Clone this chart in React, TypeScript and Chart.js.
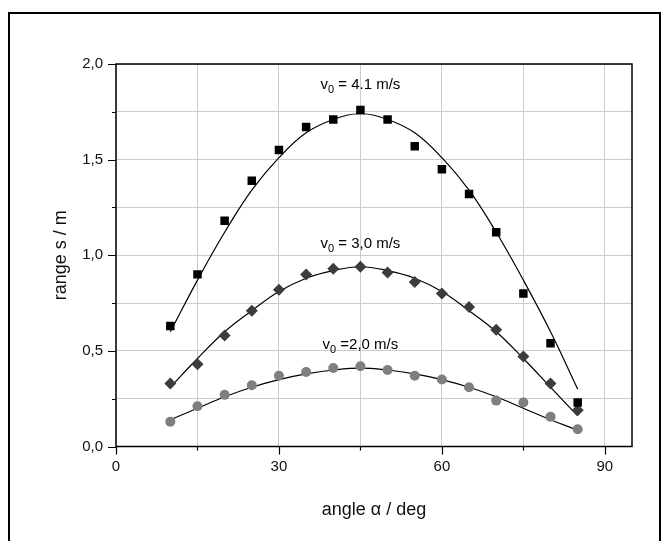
import React, { useEffect, useRef } from "react";
import { Chart, registerables } from "chart.js";

Chart.register(...registerables);

const angles = [10, 15, 20, 25, 30, 35, 40, 45, 50, 55, 60, 65, 70, 75, 80, 85];
const range41 = [0.63, 0.9, 1.18, 1.39, 1.55, 1.67, 1.71, 1.76, 1.71, 1.57, 1.45, 1.32, 1.12, 0.8, 0.54, 0.23];
const range30 = [0.33, 0.43, 0.58, 0.71, 0.82, 0.9, 0.93, 0.94, 0.91, 0.86, 0.8, 0.73, 0.61, 0.47, 0.33, 0.19];
const range20 = [0.13, 0.21, 0.27, 0.32, 0.37, 0.39, 0.41, 0.42, 0.4, 0.37, 0.35, 0.31, 0.24, 0.23, 0.155, 0.09];
const fit41 = [0.6, 0.87, 1.12, 1.34, 1.51, 1.64, 1.71, 1.74, 1.71, 1.64, 1.51, 1.34, 1.12, 0.87, 0.6, 0.3];
const fit30 = [0.31, 0.46, 0.6, 0.71, 0.81, 0.88, 0.92, 0.94, 0.92, 0.88, 0.81, 0.71, 0.6, 0.46, 0.31, 0.16];
const fit20 = [0.14, 0.2, 0.26, 0.31, 0.35, 0.38, 0.4, 0.41, 0.4, 0.38, 0.35, 0.31, 0.26, 0.2, 0.14, 0.085];

const labelTexts = [
  { sub: "0", rest: " = 4.1 m/s", x: 45, y: 1.868 },
  { sub: "0", rest: " = 3,0 m/s", x: 45, y: 1.037 },
  { sub: "0", rest: " =2,0 m/s", x: 45, y: 0.512 },
];

const FONT = "'Liberation Sans', Arial, sans-serif";

const pts = (ys: number[]) => angles.map((a, i) => ({ x: a, y: ys[i] }));

const decorPlugin = {
  id: "decor",
  beforeDraw(chart: any) {
    const ctx = chart.ctx;
    ctx.save();
    ctx.fillStyle = "#fff";
    ctx.fillRect(0, 0, chart.width, chart.height);
    ctx.restore();
  },
  afterDatasetsDraw(chart: any) {
    const ctx = chart.ctx;
    const { left, right, top, bottom } = chart.chartArea;
    const xs = chart.scales.x;
    const ys = chart.scales.y;
    ctx.save();
    ctx.strokeStyle = "#000";
    ctx.lineWidth = 1.5;
    ctx.strokeRect(left, top, right - left, bottom - top);
    ctx.lineWidth = 1.2;
    ctx.beginPath();
    for (let v = 0; v <= 2.0001; v += 0.25) {
      const py = Math.round(ys.getPixelForValue(v)) + 0.5;
      const major = Math.abs(v * 2 - Math.round(v * 2)) < 1e-6;
      ctx.moveTo(left, py);
      ctx.lineTo(left - (major ? 8 : 4), py);
    }
    for (let v = 0; v <= 90; v += 15) {
      const px = Math.round(xs.getPixelForValue(v)) + 0.5;
      const major = v % 30 === 0;
      ctx.moveTo(px, bottom);
      ctx.lineTo(px, bottom + (major ? 8 : 4));
    }
    ctx.stroke();
    ctx.fillStyle = "#000";
    ctx.textBaseline = "alphabetic";
    ctx.textAlign = "left";
    labelTexts.forEach((l) => {
      const mainF = `15px ${FONT}`;
      const subF = `11px ${FONT}`;
      ctx.font = mainF;
      const wv = ctx.measureText("v").width;
      const wr = ctx.measureText(l.rest).width;
      ctx.font = subF;
      const ws = ctx.measureText(l.sub).width;
      const total = wv + ws + wr;
      const cx = xs.getPixelForValue(l.x);
      const by = ys.getPixelForValue(l.y);
      const x0 = cx - total / 2;
      ctx.font = mainF;
      ctx.fillText("v", x0, by);
      ctx.font = subF;
      ctx.fillText(l.sub, x0 + wv, by + 4);
      ctx.font = mainF;
      ctx.fillText(l.rest, x0 + wv + ws, by);
    });
    ctx.lineWidth = 2;
    ctx.strokeRect(9, 13, 651, 600);
    ctx.restore();
  },
};

export default function App() {
  const ref = useRef<HTMLCanvasElement | null>(null);
  useEffect(() => {
    if (!ref.current) return;
    const fitStyle = { showLine: true, pointRadius: 0, borderColor: "#000", borderWidth: 1.2, tension: 0.4 };
    const chart = new Chart(ref.current, {
      type: "scatter",
      data: {
        datasets: [
          {
            data: pts(range41),
            pointStyle: "rect",
            pointRadius: 6,
            backgroundColor: "#000",
            borderColor: "#000",
            borderWidth: 0,
            showLine: false,
          },
          {
            data: pts(range30),
            pointStyle: "rectRot",
            pointRadius: 6,
            backgroundColor: "#3c3c3c",
            borderColor: "#3c3c3c",
            borderWidth: 0,
            showLine: false,
          },
          {
            data: pts(range20),
            pointStyle: "circle",
            pointRadius: 5,
            backgroundColor: "#7f7f7f",
            borderColor: "#7f7f7f",
            borderWidth: 0,
            showLine: false,
          },
          { data: pts(fit41), ...fitStyle },
          { data: pts(fit30), ...fitStyle },
          { data: pts(fit20), ...fitStyle },
        ] as any,
      },
      options: {
        responsive: false,
        animation: false,
        devicePixelRatio: 1,
        layout: { padding: { left: 50, top: 64, right: 33, bottom: 20 } },
        plugins: { legend: { display: false }, tooltip: { enabled: false } },
        scales: {
          x: {
            type: "linear",
            min: 0,
            max: 95,
            afterFit: (s: any) => {
              s.height = 74.5;
            },
            afterBuildTicks: (s: any) => {
              s.ticks = [0, 15, 30, 45, 60, 75, 90].map((v) => ({ value: v }));
            },
            grid: { color: "#cccccc", lineWidth: 1, drawTicks: false },
            border: { display: false },
            ticks: {
              padding: 11,
              color: "#111",
              font: { family: FONT, size: 15 },
              callback: (v: any) => (v % 30 === 0 ? String(v) : ""),
              maxRotation: 0,
              autoSkip: false,
            },
            title: {
              display: true,
              text: "angle α / deg",
              color: "#111",
              font: { family: FONT, size: 18 },
              padding: { top: 0, bottom: 0 },
            },
          },
          y: {
            type: "linear",
            min: 0,
            max: 2,
            afterFit: (s: any) => {
              s.width = 66;
            },
            afterBuildTicks: (s: any) => {
              s.ticks = [0, 0.25, 0.5, 0.75, 1, 1.25, 1.5, 1.75, 2].map((v) => ({ value: v }));
            },
            grid: { color: "#cccccc", lineWidth: 1, drawTicks: false },
            border: { display: false },
            ticks: {
              padding: 13,
              color: "#111",
              font: { family: FONT, size: 15 },
              autoSkip: false,
              callback: (v: any) =>
                Math.abs(v * 2 - Math.round(v * 2)) < 1e-6 ? Number(v).toFixed(1).replace(".", ",") : "",
            },
            title: {
              display: true,
              text: "range s / m",
              color: "#111",
              font: { family: FONT, size: 18 },
              padding: { top: 0, bottom: 0 },
            },
          },
        },
      },
      plugins: [decorPlugin],
    });
    return () => chart.destroy();
  }, []);
  return (
    <div style={{ position: "absolute", left: 0, top: 0, width: 665, height: 541 }}>
      <canvas ref={ref} width={665} height={541} style={{ display: "block" }} />
    </div>
  );
}
